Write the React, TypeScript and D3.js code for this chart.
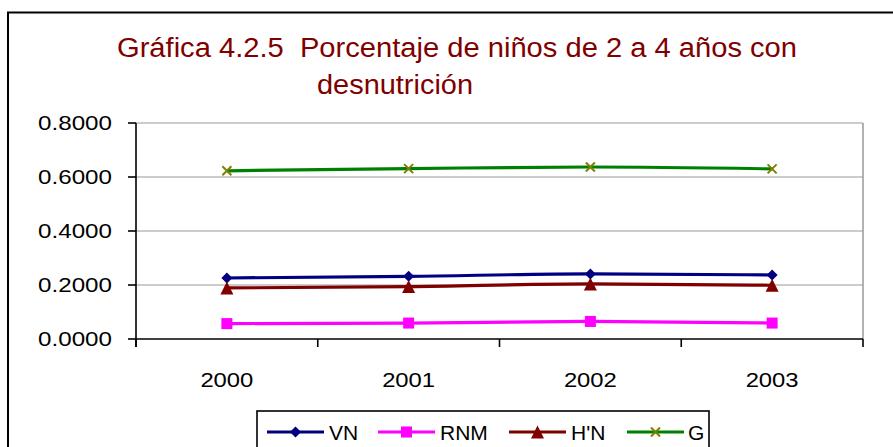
import React from "react";
import * as d3 from "d3";

const categories = ["2000", "2001", "2002", "2003"];
const vnValues = [0.226, 0.232, 0.241, 0.237];
const rnmValues = [0.057, 0.059, 0.065, 0.059];
const hnValues = [0.189, 0.194, 0.204, 0.199];
const gValues = [0.623, 0.631, 0.637, 0.630];
const yTicks = [0, 0.2, 0.4, 0.6, 0.8];
const seriesNames = ["VN", "RNM", "H'N", "G"];

const W = 893;
const H = 447;
const plot = { left: 136, right: 863, top: 123, bottom: 339 };

const series = [
  { name: seriesNames[0], values: vnValues, color: "#000080", marker: "diamond", markerColor: "#000080" },
  { name: seriesNames[1], values: rnmValues, color: "#FF00FF", marker: "square", markerColor: "#FF00FF" },
  { name: seriesNames[2], values: hnValues, color: "#800000", marker: "triangle", markerColor: "#800000" },
  { name: seriesNames[3], values: gValues, color: "#008000", marker: "x", markerColor: "#808000" },
];

function Marker({ type, x, y, color }: { type: string; x: number; y: number; color: string }) {
  if (type === "diamond") {
    const s = 5.5;
    return <path d={`M${x},${y - s}L${x + s},${y}L${x},${y + s}L${x - s},${y}Z`} fill={color} />;
  }
  if (type === "square") {
    const s = 5.5;
    return <rect x={x - s} y={y - s} width={2 * s} height={2 * s} fill={color} />;
  }
  if (type === "triangle") {
    const s = 6.5;
    return <path d={`M${x},${y - s}L${x + s},${y + s}L${x - s},${y + s}Z`} fill={color} />;
  }
  const s = 4.5;
  return (
    <path
      d={`M${x - s},${y - s}L${x + s},${y + s}M${x - s},${y + s}L${x + s},${y - s}`}
      stroke={color}
      strokeWidth={2}
      fill="none"
    />
  );
}

export default function App() {
  const x = d3.scaleBand<string>().domain(categories).range([plot.left, plot.right]);
  const y = d3.scaleLinear().domain([0, 0.8]).range([plot.bottom, plot.top]);
  const cx = (c: string) => (x(c) as number) + x.bandwidth() / 2;
  const line = d3
    .line<number>()
    .x((_, i) => cx(categories[i]))
    .y((d) => y(d))
    .curve(d3.curveMonotoneX);

  const font = "'Liberation Sans', Arial, sans-serif";
  const legendItems = [
    { lx: 267, tx: 329 },
    { lx: 378, tx: 440 },
    { lx: 509, tx: 571 },
    { lx: 627, tx: 688 },
  ];

  return (
    <svg
      width={W}
      height={H}
      style={{ position: "absolute", left: 0, top: 0, background: "#fff" }}
      fontFamily={font}
    >
      <rect x={0} y={0} width={W} height={H} fill="#fff" />
      {/* outer frame */}
      <path d={`M8,${H + 5}L8,12.5L${W + 5},12.5`} stroke="#000" strokeWidth={2} fill="none" />

      {/* title */}
      <text
        x={117}
        y={56.5}
        fontSize={27}
        fill="#800000"
        textLength={680}
        lengthAdjust="spacingAndGlyphs"
        style={{ whiteSpace: "pre" }}
      >
        {"Gráfica 4.2.5\u00A0 Porcentaje de niños de 2 a 4 años con"}
      </text>
      <text x={317} y={93.5} fontSize={27} fill="#800000" textLength={156} lengthAdjust="spacingAndGlyphs">
        desnutrición
      </text>

      {/* gridlines */}
      {yTicks.slice(1).map((t) => (
        <line key={t} x1={plot.left} x2={plot.right} y1={y(t)} y2={y(t)} stroke="#999" strokeWidth={1.2} />
      ))}
      {/* plot right border */}
      <line x1={plot.right} x2={plot.right} y1={plot.top} y2={plot.bottom} stroke="#999" strokeWidth={1.5} />

      {/* axes */}
      <line x1={plot.left} x2={plot.left} y1={plot.top} y2={plot.bottom + 8} stroke="#000" strokeWidth={1.6} />
      <line x1={plot.left} x2={plot.right} y1={plot.bottom} y2={plot.bottom} stroke="#000" strokeWidth={1.6} />
      {yTicks.map((t) => (
        <g key={t}>
          <line x1={plot.left - 8} x2={plot.left} y1={y(t)} y2={y(t)} stroke="#000" strokeWidth={1.6} />
          <text
            x={112}
            y={y(t) + 7}
            fontSize={20.5}
            textAnchor="end"
            fill="#000"
            textLength={74}
            lengthAdjust="spacingAndGlyphs"
          >
            {t.toFixed(4)}
          </text>
        </g>
      ))}
      {categories.map((c) => (
        <line
          key={"t" + c}
          x1={x(c) as number}
          x2={x(c) as number}
          y1={plot.bottom}
          y2={plot.bottom + 8}
          stroke="#000"
          strokeWidth={1.6}
        />
      ))}
      <line x1={plot.right} x2={plot.right} y1={plot.bottom} y2={plot.bottom + 8} stroke="#000" strokeWidth={1.6} />
      {categories.map((c) => (
        <text
          key={"l" + c}
          x={cx(c)}
          y={387}
          fontSize={20.5}
          textAnchor="middle"
          fill="#000"
          textLength={53}
          lengthAdjust="spacingAndGlyphs"
        >
          {c}
        </text>
      ))}

      {/* series */}
      {series.map((s) => (
        <g key={s.name}>
          <path d={line(s.values) || ""} fill="none" stroke={s.color} strokeWidth={3.2} />
          {s.values.map((v, i) => (
            <Marker key={i} type={s.marker} x={cx(categories[i])} y={y(v)} color={s.markerColor} />
          ))}
        </g>
      ))}

      {/* legend */}
      <rect x={257} y={411} width={452} height={60} fill="#fff" stroke="#000" strokeWidth={1.6} />
      {series.map((s, i) => {
        const it = legendItems[i];
        return (
          <g key={"lg" + s.name}>
            <line x1={it.lx} x2={it.lx + 57} y1={432} y2={432} stroke={s.color} strokeWidth={3.2} />
            <Marker type={s.marker} x={it.lx + 28.5} y={432} color={s.markerColor} />
            <text x={it.tx} y={439.5} fontSize={21} fill="#000">
              {s.name}
            </text>
          </g>
        );
      })}
    </svg>
  );
}
